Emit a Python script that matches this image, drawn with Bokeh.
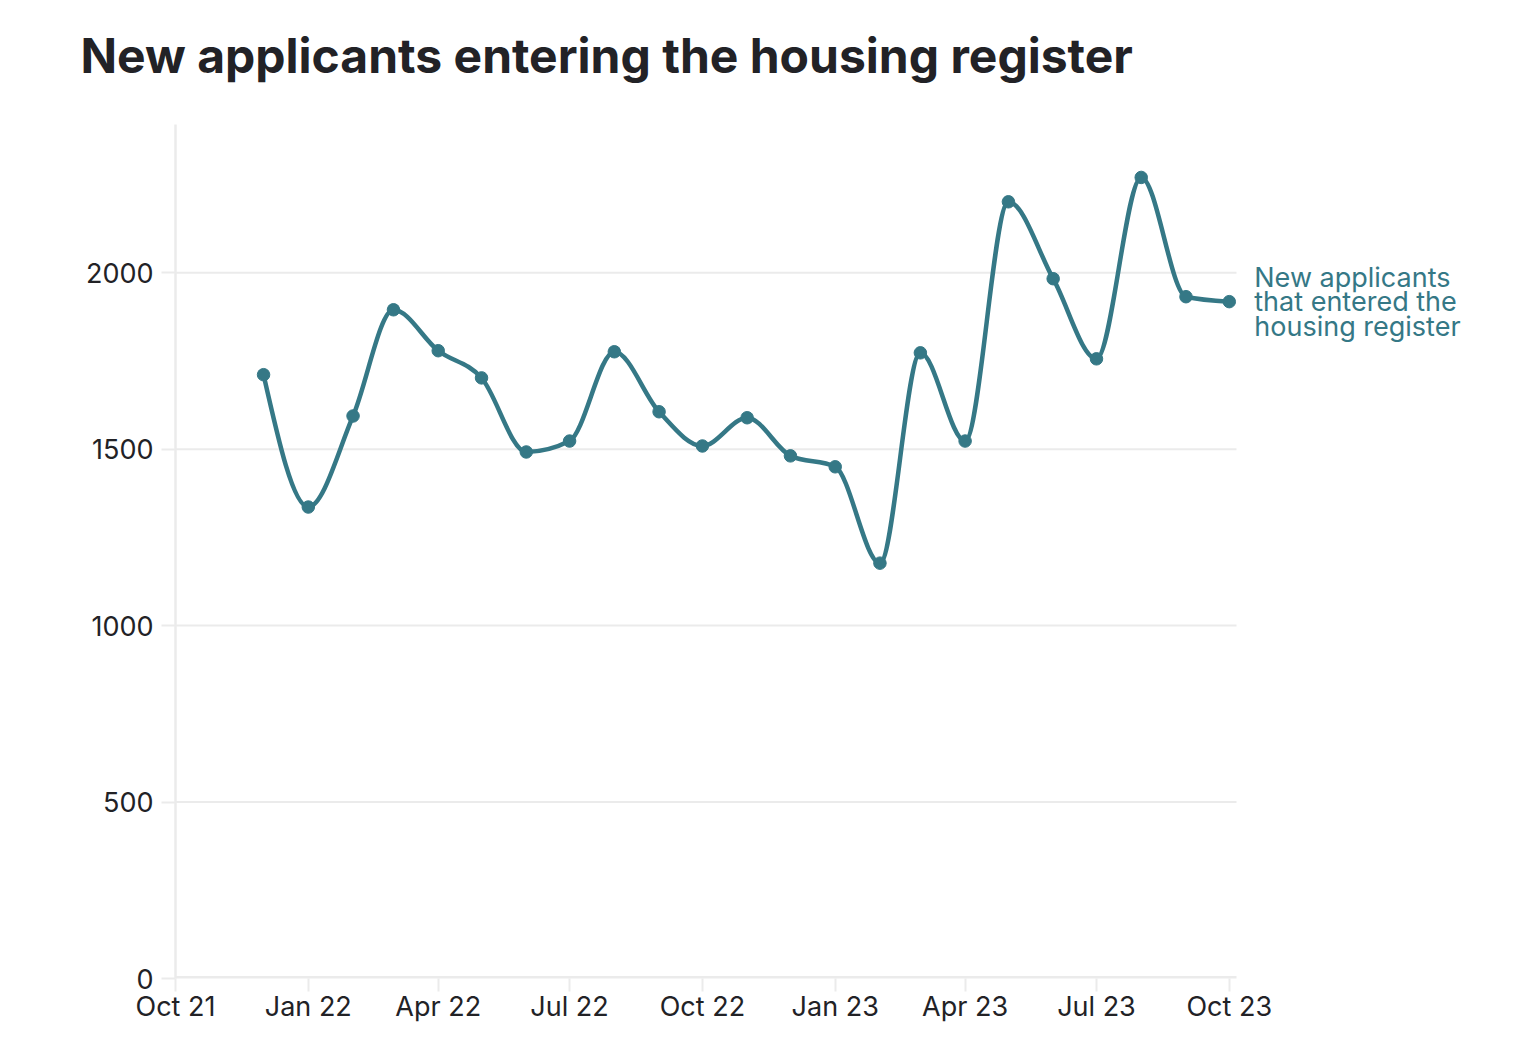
import numpy as np
import pandas as pd
from bokeh.plotting import figure
from bokeh.models import Range1d, FixedTicker, DatetimeTickFormatter, Label, ColumnDataSource, Title
from bokeh.embed import file_html
from bokeh.resources import INLINE

# ---- data ----
months = ["2021-12-01", "2022-01-01", "2022-02-01", "2022-03-01", "2022-04-01", "2022-05-01",
          "2022-06-01", "2022-07-01", "2022-08-01", "2022-09-01", "2022-10-01", "2022-11-01",
          "2022-12-01", "2023-01-01", "2023-02-01", "2023-03-01", "2023-04-01", "2023-05-01",
          "2023-06-01", "2023-07-01", "2023-08-01", "2023-09-01", "2023-10-01"]
new_applicants = [1711, 1336, 1594, 1895, 1779, 1702, 1492, 1523, 1776, 1606, 1509, 1589,
                  1481, 1450, 1177, 1773, 1523, 2201, 1983, 1756, 2270, 1932, 1918]
tick_dates = ["2021-10-01", "2022-01-01", "2022-04-01", "2022-07-01", "2022-10-01",
              "2023-01-01", "2023-04-01", "2023-07-01", "2023-10-01"]
y_ticks = [0, 500, 1000, 1500, 2000]
series_label = ["New applicants", "that entered the", "housing register"]
title_text = "New applicants entering the housing register"

TEAL = "#357886"
GRID = "#ebebeb"
INK = "#222226"
FONT = "Inter"

# ---- monotone-x (d3 curveMonotoneX) bezier segments ----
xs = pd.to_datetime(months).astype("int64").to_numpy() / 1e6  # ms
ys = np.array(new_applicants, dtype=float)
xd = xs / 86400000.0  # days for slope computation
n = len(xd)

def slope3(i):
    h0 = xd[i] - xd[i - 1]
    h1 = xd[i + 1] - xd[i]
    s0 = (ys[i] - ys[i - 1]) / h0
    s1 = (ys[i + 1] - ys[i]) / h1
    p = (s0 * h1 + s1 * h0) / (h0 + h1)
    return (np.sign(s0) + np.sign(s1)) * min(abs(s0), abs(s1), 0.5 * abs(p))

t = np.zeros(n)
for i in range(1, n - 1):
    t[i] = slope3(i)
h = xd[1] - xd[0]
t[0] = (3 * (ys[1] - ys[0]) / h - t[1]) / 2
h = xd[-1] - xd[-2]
t[-1] = (3 * (ys[-1] - ys[-2]) / h - t[-2]) / 2

x0 = xs[:-1]; x1 = xs[1:]
y0 = ys[:-1]; y1 = ys[1:]
dxd = (xd[1:] - xd[:-1]) / 3.0
dxm = (xs[1:] - xs[:-1]) / 3.0
cx0 = x0 + dxm
cy0 = y0 + dxd * t[:-1]
cx1 = x1 - dxm
cy1 = y1 - dxd * t[1:]
bez = ColumnDataSource(dict(x0=x0, y0=y0, x1=x1, y1=y1, cx0=cx0, cy0=cy0, cx1=cx1, cy1=cy1))
pts = ColumnDataSource(dict(x=xs, y=ys))

# ---- layout: frame widened so the end label (clipped to the frame) fits ----
DAY = 86400000.0
FRAME_L, FRAME_R = 175, 1517
PX_PER_DAY = 1061 / 735.0
x_start = pd.Timestamp("2021-10-01").value / 1e6
axis_end = pd.Timestamp("2023-10-06").value / 1e6
x_end = x_start + (FRAME_R - FRAME_L) / PX_PER_DAY * DAY

p = figure(width=1537, height=1053, x_axis_type="datetime",
           x_range=Range1d(x_start, x_end), y_range=Range1d(0, 2420),
           output_backend="svg", toolbar_location=None,
           min_border_left=FRAME_L, min_border_right=1537 - FRAME_R,
           min_border_top=124, min_border_bottom=75)
p.outline_line_color = None
p.background_fill_color = "white"
p.border_fill_color = "white"

# spacer between title and plot frame
p.add_layout(Title(text=" ", text_font_size="10px", standoff=22), "above")

p.title.text = title_text
p.title.text_font = FONT
p.title.text_font_size = "48px"
p.title.text_font_style = "bold"
p.title.text_color = INK
p.title.align = "left"
p.title.offset = -95
p.title.standoff = 10

# grid (drawn as segments so they stop at the axis end)
p.xgrid.grid_line_color = None
p.ygrid.grid_line_color = None
grid_vals = [v for v in y_ticks if v > 0]
p.segment(x0=[x_start] * len(grid_vals), y0=grid_vals, x1=[axis_end] * len(grid_vals), y1=grid_vals,
          line_color=GRID, line_width=2)
# x axis line (half clipped at the frame bottom)
p.segment(x0=[x_start], y0=[0], x1=[axis_end], y1=[0], line_color=GRID, line_width=5)

# y axis
p.yaxis.ticker = FixedTicker(ticks=y_ticks)
p.yaxis.axis_line_color = GRID
p.yaxis.axis_line_width = 2.5
p.yaxis.major_tick_line_color = GRID
p.yaxis.major_tick_line_width = 2
p.yaxis.major_tick_out = 14
p.yaxis.major_tick_in = 0
p.yaxis.minor_tick_line_color = None
p.yaxis.major_label_text_font = FONT
p.yaxis.major_label_text_font_size = "27px"
p.yaxis.major_label_text_color = INK
p.yaxis.major_label_standoff = 8

# x axis
tick_ms = [pd.Timestamp(d).value / 1e6 for d in tick_dates]
p.xaxis.ticker = FixedTicker(ticks=tick_ms)
p.xaxis.formatter = DatetimeTickFormatter(days="%b %y", months="%b %y", years="%b %y")
p.xaxis.axis_line_color = None
p.xaxis.major_tick_line_color = GRID
p.xaxis.major_tick_line_width = 2
p.xaxis.major_tick_out = 13
p.xaxis.major_tick_in = 0
p.xaxis.minor_tick_line_color = None
p.xaxis.major_label_text_font = FONT
p.xaxis.major_label_text_font_size = "27px"
p.xaxis.major_label_text_color = INK
p.xaxis.major_label_standoff = -2

# series
p.bezier(x0="x0", y0="y0", x1="x1", y1="y1", cx0="cx0", cy0="cy0", cx1="cx1", cy1="cy1",
         source=bez, line_color=TEAL, line_width=4.5)
p.scatter("x", "y", source=pts, size=12.5, fill_color=TEAL, line_color=TEAL)

# end label
for k, line in enumerate(series_label):
    p.add_layout(Label(x=float(xs[-1]), y=float(ys[-1]), text=line, x_offset=25,
                       y_offset=(1 - k) * 24.5, text_baseline="middle", text_align="left",
                       text_font=FONT, text_font_size="27px", text_color=TEAL))

open("out.html", "w").write(file_html(p, INLINE))
